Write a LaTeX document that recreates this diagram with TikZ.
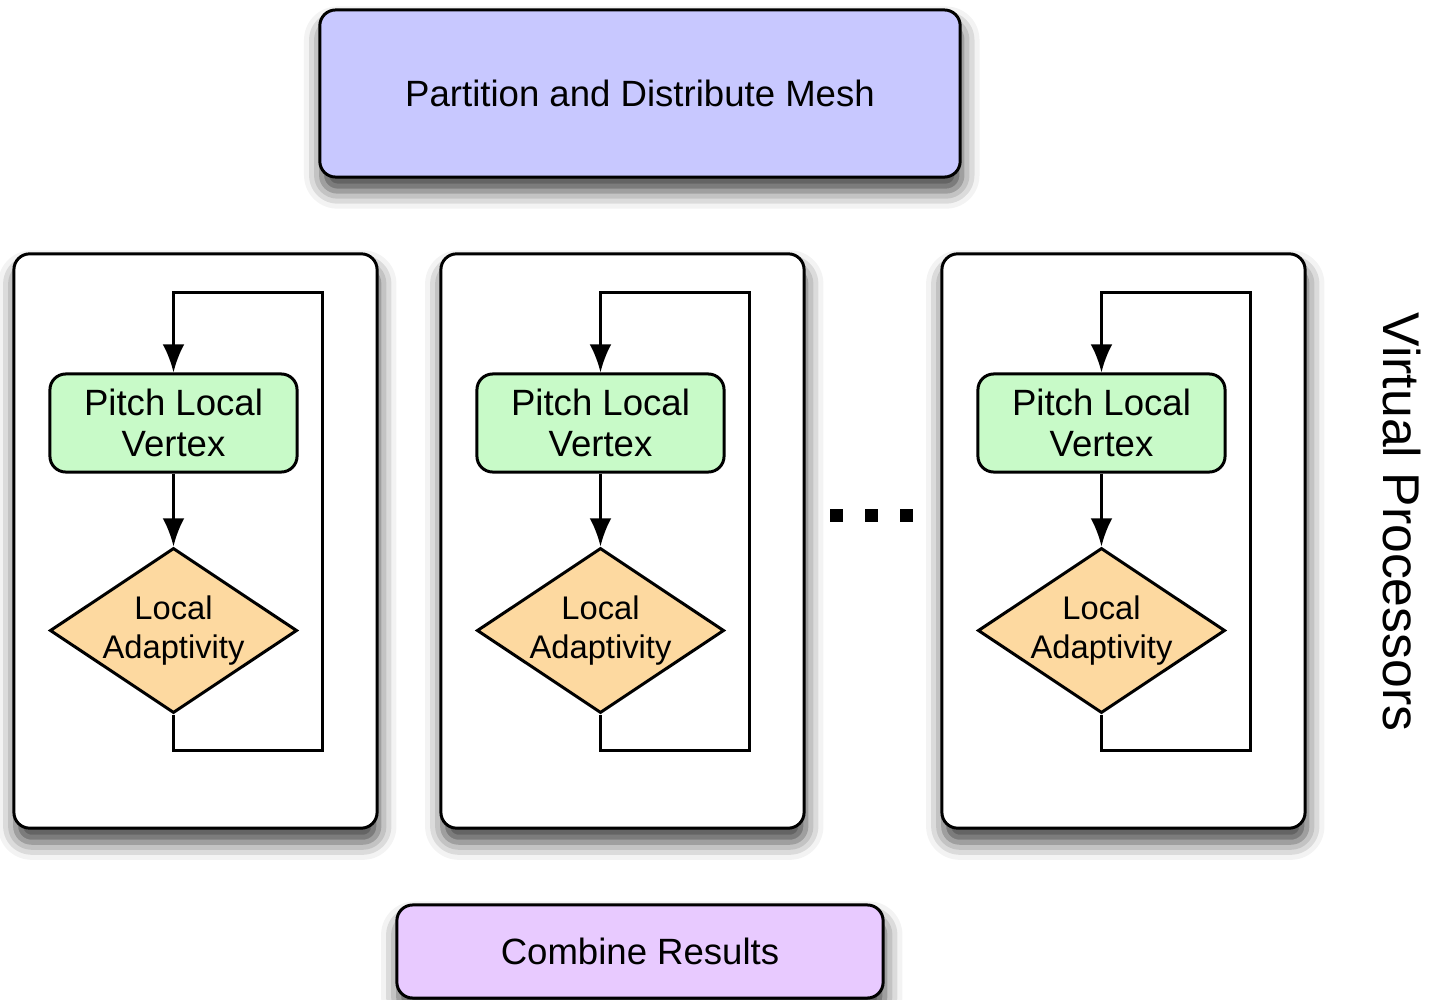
\documentclass[tikz,border=0pt]{standalone}
\usepackage{fontspec}
\setmainfont{Liberation Sans}
\usetikzlibrary{arrows.meta,shapes.geometric,shadows.blur,calc}

\definecolor{meshblue}{RGB}{200,200,255}
\definecolor{pitchgreen}{RGB}{200,250,200}
\definecolor{adaptorange}{RGB}{253,217,160}
\definecolor{combinepurple}{RGB}{232,202,255}

\tikzset{
  stage/.style={draw, rounded corners=4.5pt, font=\fontsize{10.4}{12}\selectfont,
    blur shadow={shadow xshift=0.5pt, shadow yshift=-4pt, shadow blur radius=5pt, shadow opacity=75}},
  procbox/.style={stage, fill=white, minimum width=3.63cm, minimum height=5.74cm},
  pitchbox/.style={draw, rounded corners=4.5pt, fill=pitchgreen, align=center,
    minimum width=2.47cm, minimum height=0.98cm, inner sep=0pt,
    font=\fontsize{10.4}{11.6}\selectfont},
  adaptbox/.style={draw, diamond, fill=adaptorange, align=center, aspect=1.5,
    minimum width=2.47cm, minimum height=1.65cm, inner sep=0pt,
    font=\fontsize{9.3}{11}\selectfont},
}

\begin{document}
\begin{tikzpicture}[x=0.01cm, y=-0.01cm, line width=0.85pt,
  >={Latex[length=8pt,width=6.2pt]}]
  \useasboundingbox (0,0) rectangle (1429,1000);

  \node[stage, fill=meshblue, minimum width=6.4cm, minimum height=1.67cm]
    (mesh) at (640,93.5) {Partition and Distribute Mesh};

  % one processor column each: pitch, adapt, then loop back
  \foreach \c [count=\i] in {195.5,622.5,1123.5} {
    \node[procbox] (vp\i) at (\c,541) {};
    \node[pitchbox] (pv\i) at ($(vp\i)+(-22,-118)$) {Pitch Local\\Vertex};
    \node[adaptbox] (la\i) at ($(vp\i)+(-22,89.5)$) {Local\\Adaptivity};
    \draw[->] (pv\i) -- (la\i);
    \draw[->] (la\i.south) -- ++(0,36) -| ($(pv\i.north)+(149,-80)$) -| (pv\i.north);
  }

  % dots between the columns
  \foreach \x in {836.5,871.5,906.5}
    \fill ({\x-6.5},508.5) rectangle ++(13,13);

  \node[rotate=-90, font=\fontsize{14.7}{17}\selectfont] (vlabel) at (1402,522) {Virtual Processors};

  \node[stage, fill=combinepurple, minimum width=4.86cm, minimum height=0.93cm]
    (combine) at (640,951.5) {Combine Results};
\end{tikzpicture}
\end{document}
